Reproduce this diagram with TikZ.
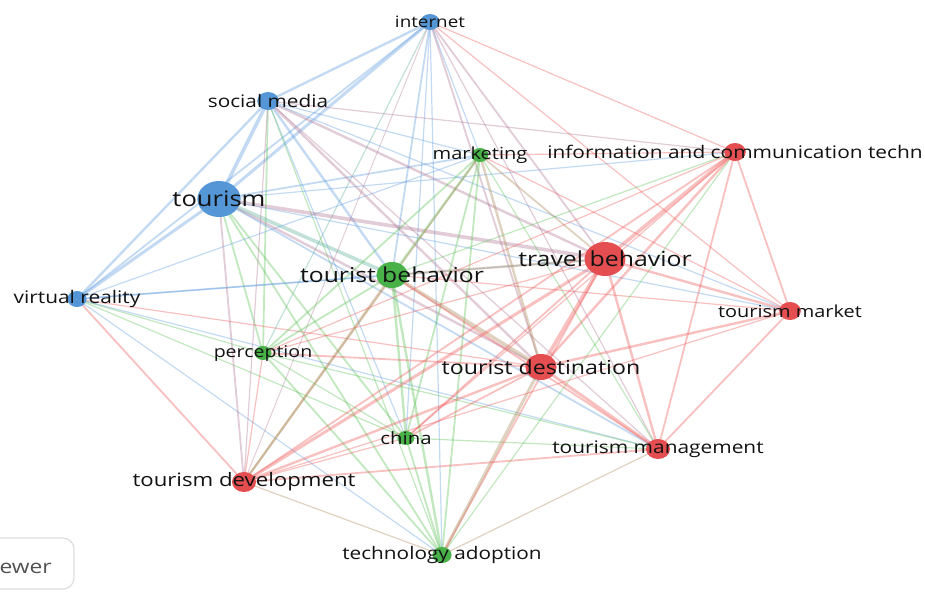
\documentclass[tikz,border=0pt]{standalone}
\usepackage{fontspec}
\setmainfont{Open Sans}
\usetikzlibrary{shapes.geometric}
\definecolor{nblue}{RGB}{84,150,214}
\definecolor{ngreen}{RGB}{72,178,72}
\definecolor{nred}{RGB}{228,78,80}
\definecolor{eb}{RGB}{100,160,225}
\definecolor{eg}{RGB}{95,195,90}
\definecolor{er}{RGB}{240,90,90}
\colorlet{ebg}{eb!50!eg}
\colorlet{ebr}{eb!45!er}
\colorlet{egr}{eg!45!er}
\definecolor{txt}{RGB}{18,18,18}
\newcommand\lab[2]{\scalebox{1.2}[1]{\fontsize{#1}{#1}\selectfont #2}}
\tikzset{
  vdot/.style={ellipse, inner sep=0pt, draw=none},
  vlabel/.style={text=txt, inner sep=0pt},
  edge/.style={opacity=0.38, line cap=round}
}
\begin{document}
\begin{tikzpicture}[x=1pt,y=-1pt]
\useasboundingbox (0,0) rectangle (925,592);
\fill[white] (0,0) rectangle (925,592);
% node centres
\coordinate (A) at (430,22);
\coordinate (B) at (268,101);
\coordinate (C) at (219,199);
\coordinate (D) at (77,299);
\coordinate (E) at (480,155);
\coordinate (F) at (392,275);
\coordinate (G) at (263,353);
\coordinate (H) at (406,438);
\coordinate (I) at (442,555);
\coordinate (J) at (735,152);
\coordinate (K) at (605,259);
\coordinate (L) at (790,311);
\coordinate (M) at (541,367);
\coordinate (N) at (658,449);
\coordinate (O) at (244,482);
% edges
\foreach \a/\b/\w/\c in {
 A/B/2/eb, A/C/2.5/eb, A/D/1.5/eb, B/C/3/eb, B/D/2/eb, C/D/2.5/eb,
 A/E/1/eb, A/F/1.5/eb, A/G/1/ebg, A/H/1/eb, A/I/1/eb,
 B/E/1/eb, B/F/2/eb, B/G/1.5/eg, B/H/1/eb, B/I/1/eg,
 C/E/1.5/eb, C/F/3/ebg, C/G/1.5/eg, C/H/1.5/eg, C/I/1.5/eg,
 D/E/1/eb, D/F/1.5/eb, D/G/1/eg, D/H/1/eg, D/I/1/eb,
 A/J/1/er, A/K/1.5/ebr, A/L/1/er, A/M/1.5/ebr, A/N/1/ebr, A/O/0.8/ebr,
 B/J/1/ebr, B/K/2/ebr, B/L/1/eb, B/M/2/ebr, B/N/1/ebr, B/O/1/ebr,
 C/J/1/eb, C/K/3/ebr, C/L/1/eb, C/M/2/ebr, C/N/1.5/eb, C/O/1.5/ebr,
 D/K/1/eb, D/M/1/er, D/N/1/eb, D/O/1.5/er,
 E/F/2/eg, E/G/1.5/eg, E/H/1.5/eg, E/I/1.5/eg,
 F/G/1.5/eg, F/H/2/eg, F/I/2/eg, G/H/1/eg, G/I/1.5/eg, H/I/1.5/eg,
 E/J/1/er, E/K/1.5/egr, E/L/1/er, E/M/2/egr, E/N/1/eg, E/O/1.5/egr,
 F/J/1/eg, F/K/2/egr, F/L/1/er, F/M/3/egr, F/N/1.5/er, F/O/2/egr,
 G/J/1/er, G/K/1/er, G/M/1.5/er, G/N/1/eg, G/O/1/er,
 H/J/1/er, H/K/1.5/er, H/M/1.5/er, H/N/1/eg, H/O/1/er,
 I/J/1/eg, I/K/1.5/er, I/M/2.5/egr, I/N/1/egr, I/O/1/egr,
 J/K/3/er, J/L/1.5/er, J/M/2/er, J/N/1.5/er, J/O/1.5/er,
 K/L/2/er, K/M/3/er, K/N/2/er, K/O/2.5/er,
 L/M/2/er, L/N/1.5/er, L/O/1/er,
 M/N/2.5/er, M/O/2/er, N/O/1.5/er}
 {\draw[edge, line width=\w*1.2pt, color=\c] (\a) -- (\b);}
% node circles
\foreach \n/\r/\c in {A/8/nblue, B/9/nblue, C/18/nblue, D/8/nblue,
 E/7/ngreen, F/13/ngreen, G/7/ngreen, H/7/ngreen, I/8/ngreen,
 J/9/nred, K/17/nred, L/9/nred, M/13/nred, N/10/nred, O/10/nred}
 {\node[vdot, fill=\c, minimum width=2.4*\r pt, minimum height=2*\r pt] (\n-dot) at (\n) {};}
% labels
\node[vlabel] (A-l) at (A) {\lab{15.7}{internet}};
\node[vlabel] (B-l) at (B) {\lab{17.3}{social media}};
\node[vlabel] (C-l) at (C) {\lab{21.3}{tourism}};
\node[vlabel] (D-l) at (D) {\lab{17.4}{virtual reality}};
\node[vlabel] (E-l) at (E) {\lab{16.7}{marketing}};
\node[vlabel] (F-l) at (F) {\lab{20.6}{tourist behavior}};
\node[vlabel] (G-l) at (G) {\lab{16.3}{perception}};
\node[vlabel] (H-l) at (H) {\lab{17}{china}};
\node[vlabel] (I-l) at (I) {\lab{17.3}{technology adoption}};
\node[vlabel] (J-l) at (J) {\lab{17.4}{information and communication techn}};
\node[vlabel] (K-l) at (K) {\lab{20.7}{travel behavior}};
\node[vlabel] (L-l) at (L) {\lab{16.6}{tourism market}};
\node[vlabel] (M-l) at (M) {\lab{19.3}{tourist destination}};
\node[vlabel] (N-l) at (N) {\lab{17.4}{tourism management}};
\node[vlabel] (O-l) at (O) {\lab{18.5}{tourism development}};
% logo box
\draw[draw=black!13, line width=1.2pt, rounded corners=11pt] (-30,538) rectangle (74,589);
\node[anchor=east, text=black!68, inner sep=0pt] (logo) at (52,568) {\lab{19}{ewer}};
\end{tikzpicture}
\end{document}
